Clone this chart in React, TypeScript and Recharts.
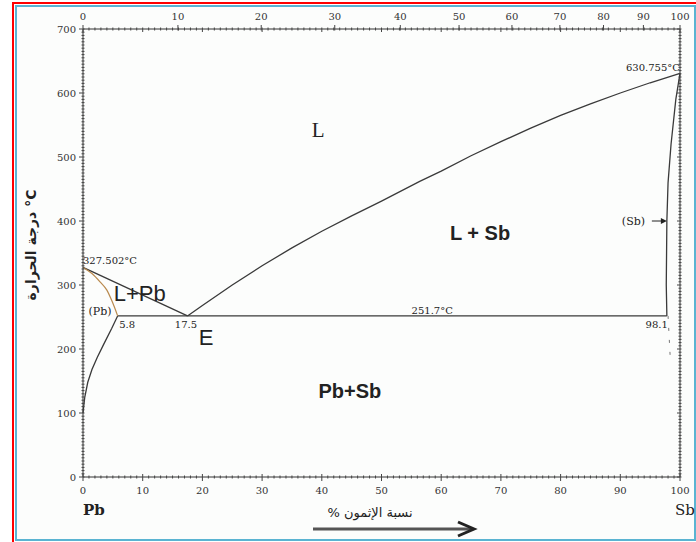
import React from 'react';
import { LineChart, Line, XAxis, YAxis, ReferenceDot } from 'recharts';

// Pb–Sb phase diagram. Bottom axis: at.% Sb, top axis: wt.% Sb.
const liquidusPb = [
  { x: 0, t: 327.502 },
  { x: 17.5, t: 251.7 },
];

const liquidusSb = [
  { x: 17.5, t: 251.7 }, { x: 20, t: 268 }, { x: 25, t: 300 }, { x: 30, t: 330 },
  { x: 35, t: 358 }, { x: 40, t: 384 }, { x: 45, t: 408 }, { x: 50, t: 431 },
  { x: 56.4, t: 462 }, { x: 60, t: 478 }, { x: 65, t: 502 }, { x: 70, t: 524 },
  { x: 75, t: 545 }, { x: 80, t: 565 }, { x: 85, t: 583 }, { x: 90, t: 600 },
  { x: 95, t: 616 }, { x: 100, t: 630.755 },
];

const solidusPb = [
  { x: 0, t: 327.502 }, { x: 1.5, t: 318 }, { x: 2.85, t: 305 }, { x: 4, t: 292 },
  { x: 4.8, t: 276 }, { x: 5.4, t: 262 }, { x: 5.8, t: 251.7 },
];

const solvusPb = [
  { x: 0, t: 100 }, { x: 0.3, t: 125 }, { x: 0.8, t: 148 }, { x: 1.5, t: 168 },
  { x: 2.4, t: 187 }, { x: 3.5, t: 208 }, { x: 4.8, t: 232 }, { x: 5.8, t: 251.7 },
];

const solidusSb = [
  { x: 97.8, t: 251.7 }, { x: 97.7, t: 300 }, { x: 97.8, t: 400 }, { x: 98.0, t: 460 },
  { x: 98.5, t: 520 }, { x: 99.3, t: 590 }, { x: 100, t: 630.755 },
];

const solvusSb = [
  { x: 98.0, t: 251.7 }, { x: 98.4, t: 180 },
];

const eutectic = [
  { x: 5.8, t: 251.7 },
  { x: 97.8, t: 251.7 },
];

// frame corners, only to bind the top and right axes
const frame = [
  { x: 0, t: 0 },
  { x: 100, t: 700 },
];

// tick labels
const bottomLabels = [0, 10, 20, 30, 40, 50, 60, 70, 80, 90, 100];
const leftLabels = [0, 100, 200, 300, 400, 500, 600, 700];
const topWt = [0, 10, 20, 30, 40, 50, 60, 70, 80, 90, 100];
const topAt = [0, 15.9, 29.85, 42.17, 53.15, 62.99, 71.85, 79.88, 87.19, 93.87, 100];

const xMinor = Array.from({ length: 101 }, (_, i) => i);
const yMinor = Array.from({ length: 141 }, (_, i) => i * 5);
const topTicks = [...xMinor, ...topAt.filter(v => !Number.isInteger(v))];

// annotations (position in data units)
const notes = [
  { key: 'L', text: 'L', x: 39.4, t: 542 },
  { key: 'LSb', text: 'L + Sb', x: 66.5, t: 382 },
  { key: 'LPb', text: 'L+Pb', x: 9.5, t: 286 },
  { key: 'PbSb', text: 'Pb+Sb', x: 44.7, t: 134 },
  { key: 'E', text: 'E', x: 20.6, t: 218 },
  { key: 'Pb', text: '(Pb)', x: 2.85, t: 258 },
  { key: 'c58', text: '5.8', x: 7.4, t: 239 },
  { key: 'c175', text: '17.5', x: 17.25, t: 239 },
  { key: 'c981', text: '98.1', x: 96.1, t: 239 },
  { key: 'teut', text: '251.7°C', x: 58.5, t: 260 },
  { key: 'tpb', text: '327.502°C', x: 0, t: 339 },
  { key: 'tsb', text: '630.755°C', x: 100, t: 640 },
  { key: 'Sb', text: '(Sb)', x: 92.2, t: 400 },
];

const styles: Record<string, any> = {
  L: { fontFamily: 'Liberation Serif', fontSize: 21 },
  LSb: { fontFamily: 'Liberation Sans', fontSize: 20, fontWeight: 'bold' },
  LPb: { fontFamily: 'Liberation Sans', fontSize: 22 },
  PbSb: { fontFamily: 'Liberation Sans', fontSize: 20, fontWeight: 'bold' },
  E: { fontFamily: 'Liberation Sans', fontSize: 22 },
  Pb: { fontSize: 11 },
  Sb: { fontSize: 11 },
  tpb: { textAnchor: 'start' },
  tsb: { textAnchor: 'end' },
};

const small = { fontFamily: 'DejaVu Serif', fontSize: 10, fill: '#333' };
const ink = '#3a3a3a';

function BottomTick({ x, y, payload }: any) {
  const v = payload.value;
  const major = bottomLabels.includes(v);
  return (
    <g>
      <line x1={x} x2={x} y1={y - (major ? 3 : 1.5)} y2={y + (major ? 4 : 1.5)} stroke="#444" />
      {major && <text x={x} y={y + 17} textAnchor="middle" {...small}>{v}</text>}
    </g>
  );
}

function TopTick({ x, y, payload }: any) {
  const v = payload.value;
  const i = topAt.indexOf(v);
  const inward = Number.isInteger(v) && v % 10 === 0;
  return (
    <g>
      <line x1={x} x2={x} y1={y - (i >= 0 ? 4 : 1.5)} y2={y + (inward ? 3 : 1.5)} stroke="#444" />
      {i >= 0 && <text x={x} y={y - 9} textAnchor="middle" {...small}>{topWt[i]}</text>}
    </g>
  );
}

function LeftTick({ x, y, payload }: any) {
  const v = payload.value;
  const major = leftLabels.includes(v);
  return (
    <g>
      <line x1={x - (major ? 4 : 1.5)} x2={x + 1.5} y1={y} y2={y} stroke="#444" />
      {major && <text x={x - 7} y={y + 3.5} textAnchor="end" {...small}>{v}</text>}
    </g>
  );
}

function RightTick({ x, y, payload }: any) {
  const v = payload.value;
  const major = leftLabels.includes(v);
  return <line x1={x - (major ? 3 : 1.5)} x2={x + 1.5} y1={y} y2={y} stroke="#444" />;
}

const curves = [liquidusPb, liquidusSb, eutectic, solvusPb, solidusSb];

export default function App() {
  return (
    <div style={{ position: 'absolute', left: 0, top: 0, width: 696, height: 542, overflow: 'hidden', background: '#fff' }}>
      <div style={{ position: 'absolute', left: 12, top: 2, width: 700, height: 560, border: '2px solid #f00' }} />
      <div style={{ position: 'absolute', left: 15, top: 5, width: 677, height: 532, border: '2px solid #5ab4d2', background: '#fcfdfc' }} />
      <div style={{ position: 'absolute', left: 0, top: 0 }}>
        <LineChart width={696} height={542} margin={{ top: 9, right: 15, bottom: 45, left: 43 }}>
          <XAxis type="number" dataKey="x" domain={[0, 100]} ticks={xMinor} interval={0}
            tickLine={false} tickSize={0} tickMargin={0} height={20}
            axisLine={{ stroke: '#333' }} tick={(p: any) => <BottomTick {...p} />} />
          <XAxis xAxisId="top" orientation="top" type="number" dataKey="x" domain={[0, 100]}
            ticks={topTicks} interval={0} tickLine={false} tickSize={0} tickMargin={0} height={20}
            axisLine={{ stroke: '#333' }} tick={(p: any) => <TopTick {...p} />} />
          <YAxis type="number" domain={[0, 700]} ticks={yMinor} interval={0}
            tickLine={false} tickSize={0} tickMargin={0} width={40}
            axisLine={{ stroke: '#333' }} tick={(p: any) => <LeftTick {...p} />} />
          <YAxis yAxisId="right" orientation="right" type="number" domain={[0, 700]} ticks={yMinor}
            interval={0} tickLine={false} tickSize={0} tickMargin={0} width={1}
            axisLine={{ stroke: '#333' }} tick={(p: any) => <RightTick {...p} />} />

          <Line data={frame} dataKey="t" xAxisId="top" yAxisId="right" stroke="none" dot={false}
            isAnimationActive={false} />
          {curves.map((d, i) => (
            <Line key={i} data={d} dataKey="t" type="linear" dot={false} stroke={ink}
              strokeWidth={1.3} isAnimationActive={false} />
          ))}
          <Line data={solidusPb} dataKey="t" type="monotone" dot={false} stroke="#b98a4e"
            strokeWidth={1.2} isAnimationActive={false} />
          <Line data={solvusSb} dataKey="t" type="linear" dot={false} stroke="#777"
            strokeWidth={1} strokeDasharray="3 9" isAnimationActive={false} />

          {notes.map(n => (
            <ReferenceDot key={n.key} x={n.x} y={n.t} r={0} isFront
              shape={(p: any) => (
                <text x={p.cx} y={p.cy} textAnchor="middle" dominantBaseline="central"
                  {...small} fill="#222" {...(styles[n.key] || {})}>{n.text}</text>
              )} />
          ))}
          <ReferenceDot x={97.8} y={400} r={0} isFront
            shape={(p: any) => (
              <g>
                <line x1={p.cx - 15} x2={p.cx - 4} y1={p.cy} y2={p.cy} stroke="#222" />
                <path d={`M${p.cx - 6},${p.cy - 3} L${p.cx},${p.cy} L${p.cx - 6},${p.cy + 3} Z`} fill="#222" />
              </g>
            )} />
        </LineChart>
      </div>
      <svg width={696} height={542} style={{ position: 'absolute', left: 0, top: 0, pointerEvents: 'none' }}>
        <text transform="translate(36,245) rotate(-90)" textAnchor="middle" fontFamily="DejaVu Sans"
          fontSize={14} fontWeight="bold" fill="#222">درجة الحرارة °C</text>
        <text x={83} y={515} fontFamily="DejaVu Serif" fontSize={15} fontWeight="bold" fill="#222">Pb</text>
        <text x={675} y={515} fontFamily="DejaVu Serif" fontSize={15} fill="#222">Sb</text>
        <text x={370} y={517} textAnchor="middle" fontFamily="DejaVu Sans" fontSize={13} fill="#222">% نسبة الإثمون</text>
        <line x1={313} x2={472} y1={529} y2={529} stroke="#555" strokeWidth={3} />
        <path d="M458,522 L474,529 L458,536" fill="none" stroke="#222" strokeWidth={3} />
      </svg>
    </div>
  );
}
